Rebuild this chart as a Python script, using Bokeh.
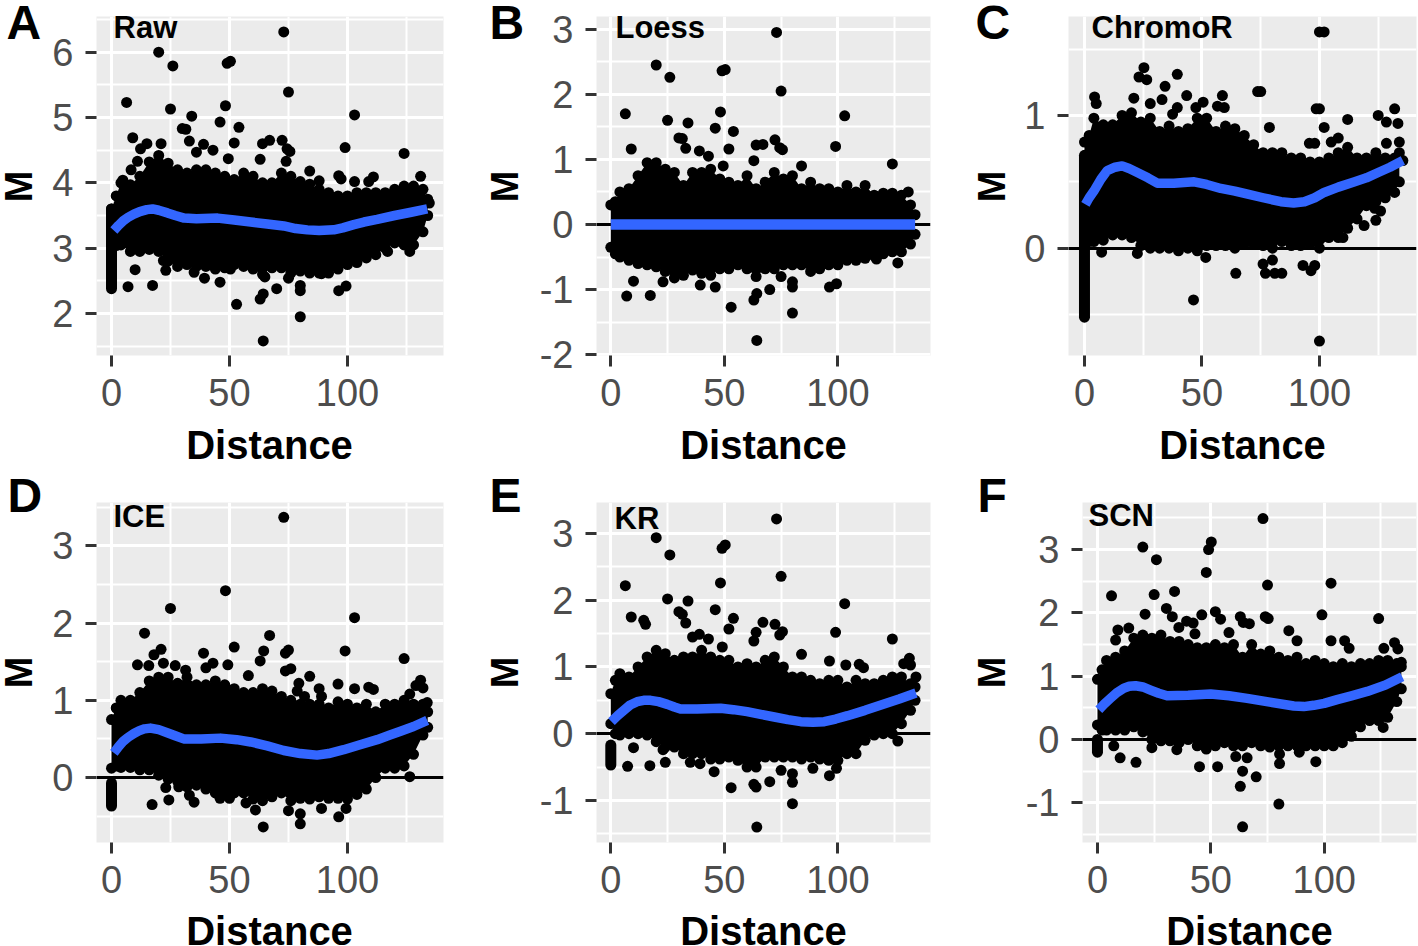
from bokeh.plotting import figure
from bokeh.layouts import column, row
from bokeh.models import Range1d, FixedTicker, Label
from bokeh.embed import file_html
from bokeh.resources import INLINE
import math

# ---- shared x positions of the blob outline
ENV_X = [0,2,4,8,12,16,20,24,28,32,36,40,44,48,52,56,60,64,68,72,76,80,84,88,92,96,100,104,108,112,116,120,124,128,132,134]

# ---- A: Raw
A_UP = [3.6,3.8,4.0,3.97,4.1,4.32,4.42,4.3,4.2,4.15,4.2,4.2,4.15,4.1,4.05,4.15,4.1,4.0,4.0,4.15,4.1,4.02,3.98,3.9,3.85,3.8,3.8,3.85,3.85,3.85,3.85,3.9,3.95,3.95,3.9,3.75]
A_LO = [3.05,3.04,3.05,2.95,2.95,2.98,2.95,2.8,2.72,2.75,2.72,2.72,2.68,2.7,2.75,2.72,2.68,2.6,2.7,2.7,2.62,2.65,2.62,2.62,2.62,2.68,2.75,2.78,2.85,2.9,3.0,3.08,3.05,3.05,3.25,3.5]
A_PX = [20,26,49,50.4,73,75,6.4,25,34,48.3,46,30,31.5,54,33,103,99,124,9,52,39,43,36,49.5,64,67,72.3,74.4,75.6,63,74,84,88,96.3,97.3,103,111,109,131,134.7,8.3,11,12.3,15,21,4.8,10,7,17.4,39.4,46,53,64.3,63,64.3,70,75,80,80,80,96.3,99.4,117,126.4,23,22,35,65,50.4,89]
A_PY = [6.0,5.79,5.83,5.86,6.31,5.39,5.23,5.13,5.02,5.18,4.93,4.83,4.82,4.85,4.64,5.04,4.54,4.45,4.69,4.61,4.59,4.5,4.47,4.37,4.6,4.65,4.65,4.52,4.48,4.36,4.33,4.18,4.03,4.11,4.06,4.02,4.09,4.02,4.1,3.69,4.2,4.33,4.52,4.6,4.6,4.04,2.67,2.41,2.43,2.54,2.48,2.14,1.58,2.22,2.3,2.38,2.54,2.43,2.35,1.95,2.35,2.42,2.95,2.95,2.66,2.81,2.63,2.56,2.68,2.61]
A_SX = [1,3,5,7,9.5,12,15,17.4,20,23.7,27,30.8,36,45,52,59,66,73,78,83,88,94.2,98,102.7,107,112.6,120,127,133.8]
A_SY = [3.27,3.35,3.42,3.47,3.52,3.56,3.59,3.6,3.58,3.54,3.5,3.46,3.45,3.46,3.43,3.4,3.37,3.34,3.3,3.28,3.27,3.28,3.31,3.36,3.4,3.44,3.5,3.55,3.6]
A_STRIP = [2.38,3.6]

# ---- B: Loess
B_UP = [0.3,0.35,0.5,0.55,0.75,0.95,0.95,0.85,0.8,0.6,0.8,0.8,0.85,0.7,0.65,0.6,0.75,0.55,0.65,0.8,0.7,0.75,0.55,0.65,0.55,0.55,0.5,0.6,0.5,0.6,0.45,0.48,0.48,0.45,0.3,0.15]
B_LO = [-0.35,-0.45,-0.5,-0.55,-0.6,-0.62,-0.65,-0.72,-0.82,-0.78,-0.7,-0.75,-0.78,-0.68,-0.68,-0.62,-0.68,-0.8,-0.68,-0.68,-0.62,-0.62,-0.62,-0.72,-0.68,-0.62,-0.62,-0.55,-0.55,-0.52,-0.48,-0.45,-0.42,-0.42,-0.3,-0.15]
B_PX = [73,20,26,49,50.4,75,6.4,25,34,48.3,46,54,30,31.5,33,103,99,124,9,52,39,43,64,67,72.3,74.4,75.6,63,84,49.5,131,10,7,17.4,39.4,46,53,64.3,63,64.3,70,75,80,80,80,96.3,99.4,117,126.4,23]
B_PY = [2.95,2.45,2.26,2.36,2.38,2.05,1.7,1.6,1.56,1.73,1.48,1.43,1.33,1.32,1.17,1.67,1.2,0.93,1.16,1.16,1.13,1.05,1.22,1.23,1.3,1.18,1.15,0.98,0.9,0.9,0.5,-0.87,-1.1,-1.09,-0.93,-0.96,-1.27,-1.78,-1.16,-1.06,-1.0,-0.8,-0.88,-0.96,-1.36,-0.96,-0.91,-0.53,-0.59,-0.88]
B_SX = [0,134]
B_SY = [0,0]

# ---- C: ChromoR
C_UP = [0.8,0.85,0.98,0.93,0.93,1.0,1.02,0.95,0.98,0.88,0.92,0.88,0.9,0.98,0.98,0.88,0.92,0.9,0.85,0.78,0.72,0.72,0.72,0.68,0.68,0.65,0.65,0.68,0.72,0.76,0.68,0.68,0.72,0.68,0.68,0.72]
C_LO = [0.1,0.05,0.05,0.06,0.1,0.1,0.08,0.02,0.0,0.0,0.0,-0.02,0.0,-0.02,0.02,0.02,0.02,0.0,0.03,0.03,0.02,0.0,0.05,0.02,0.02,0.03,0.0,0.08,0.08,0.15,0.22,0.32,0.35,0.38,0.42,0.5]
C_PX = [100,102,73.7,75,98.6,100,132,25.3,23.2,26.5,39.5,34.3,43.5,33,28,21,4.3,5,58.7,50.5,56.6,59.5,47.4,39.5,37.5,112,125,128.5,133.4,102,78.7,98,95.7,108,105,128.5,134,135.5,46.4,64.4,100,93,98,96.4,77,81,84,76,80,110,119,124,126,123.5,51.6,22.5,7.3]
C_PY = [1.63,1.63,1.18,1.18,1.05,1.05,1.05,1.36,1.29,1.27,1.31,1.22,1.15,1.12,1.09,1.13,1.14,1.09,1.15,1.1,1.07,1.06,1.06,1.06,1.01,0.97,1.0,0.95,0.94,0.91,0.91,0.79,0.79,0.83,0.8,0.79,0.8,0.66,-0.39,-0.19,-0.7,-0.13,-0.13,-0.17,-0.19,-0.19,-0.19,-0.12,-0.09,0.08,0.17,0.21,0.28,0.3,-0.07,-0.04,-0.03]
C_SX = [0.4,2,4,7,9.7,13,16,19,22.5,27,31,38,46.7,52,58,64,69,76,83.6,89,93.6,98,102,108,115,120,125,130,135.5]
C_SY = [0.33,0.38,0.43,0.52,0.585,0.61,0.62,0.6,0.57,0.53,0.49,0.49,0.5,0.48,0.45,0.43,0.41,0.38,0.35,0.34,0.35,0.38,0.42,0.46,0.5,0.53,0.57,0.61,0.66]
C_STRIP = [-0.52,0.7]

# ---- D: ICE
D_UP = [0.75,0.9,1.0,1.0,1.1,1.25,1.3,1.3,1.22,1.3,1.2,1.2,1.25,1.2,1.15,1.1,1.1,1.15,1.12,1.05,1.0,0.95,0.95,0.95,0.9,0.98,0.95,0.9,0.95,0.85,0.95,0.95,1.0,0.95,0.95,0.85]
D_LO = [0.12,0.15,0.13,0.13,0.1,0.1,0.03,-0.02,-0.05,-0.12,-0.1,-0.15,-0.2,-0.22,-0.2,-0.2,-0.28,-0.3,-0.25,-0.2,-0.3,-0.27,-0.28,-0.25,-0.27,-0.27,-0.28,-0.22,-0.15,0.0,0.12,0.12,0.15,0.3,0.55,0.65]
D_PX = [73,48.3,25,103,14,67,52,21,18,15.8,11,39,64.5,63,75,73.7,99,124,49.3,43,40,22,27,31.4,76,73.7,58,84,96,103,109,111,131,129,132,133.8,126.4,79.4,78.7,81.8,88,89,17.2,24.3,23,28.5,33,35,46,50,57,61,64.3,75,80,80,89,96.3,99.4,126.4]
D_PY = [3.37,2.42,2.19,2.07,1.87,1.84,1.69,1.66,1.59,1.45,1.46,1.61,1.64,1.51,1.65,1.61,1.64,1.54,1.46,1.48,1.42,1.48,1.45,1.39,1.41,1.38,1.32,1.31,1.21,1.15,1.17,1.14,1.26,1.19,1.16,0.97,1.08,1.22,1.12,1.05,1.15,1.05,-0.35,-0.29,-0.13,-0.12,-0.23,-0.32,-0.27,-0.27,-0.33,-0.42,-0.64,-0.43,-0.47,-0.6,-0.4,-0.51,-0.4,0.01]
D_SX = [1,3,5,7,9.5,12,14,16.5,20,23.6,27,30.6,38,46.2,53,59,66,73,80,87.1,92,98.4,105,112.6,118,122.5,128,133.8]
D_SY = [0.32,0.4,0.47,0.52,0.57,0.61,0.63,0.64,0.62,0.58,0.54,0.5,0.5,0.51,0.49,0.46,0.41,0.35,0.31,0.29,0.31,0.36,0.42,0.49,0.55,0.6,0.66,0.74]
D_STRIP = [-0.37,-0.07]

# ---- E: KR
E_UP = [0.6,0.8,0.9,0.85,1.0,1.15,1.25,1.2,1.1,1.15,1.15,1.25,1.15,1.1,1.1,1.0,1.05,1.0,1.1,1.15,1.0,0.85,0.85,0.8,0.75,0.8,0.8,0.7,0.8,0.75,0.75,0.8,0.85,0.85,0.75,0.7]
E_LO = [0.15,0.0,-0.02,0.0,0.0,-0.02,-0.12,-0.2,-0.2,-0.3,-0.3,-0.3,-0.38,-0.38,-0.35,-0.4,-0.5,-0.5,-0.35,-0.35,-0.35,-0.35,-0.38,-0.35,-0.38,-0.4,-0.4,-0.3,-0.3,-0.1,-0.02,0.0,0.0,0.15,0.35,0.5]
E_PX = [73,20,26,49,50.4,75,6.4,48.3,25,34,103,46,30,31.5,54,33,52,99,124,9,14.5,15.3,67,72.3,64,75.6,74.4,63,43,39,36,49.1,84,96.3,103.5,109.4,111.3,131.5,129,132,134.4,126.4,96.3,99.4,89,75,80,80,80,70,63,64,64.3,53,45.5,39.3,35,24,17.2,7.4,10,23]
E_PY = [3.22,2.94,2.68,2.78,2.83,2.36,2.22,2.26,2.02,1.99,1.95,1.86,1.83,1.79,1.73,1.66,1.57,1.52,1.42,1.75,1.7,1.64,1.67,1.64,1.52,1.53,1.48,1.39,1.42,1.49,1.45,1.3,1.19,1.09,1.03,1.04,0.99,1.13,1.05,1.03,0.85,-0.11,-0.63,-0.52,-0.52,-0.55,-0.6,-0.73,-1.05,-0.72,-0.76,-0.8,-1.4,-0.81,-0.57,-0.45,-0.43,-0.43,-0.48,-0.49,-0.21,-0.24]
E_SX = [0.3,3,5.7,8.5,11.6,14.5,17.5,21,24.9,28,30.7,38,48.4,54,60,66,72,78,83.7,89,94,99,104.3,112,119,127,134.4]
E_SY = [0.18,0.27,0.35,0.43,0.48,0.5,0.5,0.48,0.44,0.4,0.37,0.37,0.38,0.36,0.33,0.29,0.25,0.21,0.18,0.17,0.18,0.22,0.27,0.35,0.43,0.52,0.61]
E_STRIP = [-0.47,-0.17]

# ---- F: SCN
F_UP = [0.95,1.1,1.25,1.3,1.4,1.6,1.65,1.6,1.65,1.55,1.55,1.5,1.45,1.45,1.5,1.45,1.5,1.3,1.5,1.35,1.4,1.3,1.25,1.3,1.2,1.25,1.2,1.15,1.2,1.15,1.2,1.2,1.25,1.25,1.2,1.15]
F_LO = [0.23,0.15,0.15,0.15,0.15,0.2,0.12,0.0,-0.02,-0.02,-0.05,0.0,-0.1,-0.15,-0.1,-0.05,-0.1,-0.1,-0.05,-0.1,-0.12,-0.1,-0.1,-0.1,-0.1,-0.1,-0.1,-0.1,-0.05,0.05,0.2,0.3,0.3,0.35,0.6,0.8]
F_PX = [73,20,26,49,50.2,48,75,103,6.2,25,34,30.4,21,33,46,52,54.3,99,124,63,64.3,67,74,75.3,35.9,39.3,42.2,43,58,84.4,88,103,109,111,131,126.3,132.5,134,9,13.8,8,126,96.3,80.3,80.3,80,70,64,63,64,66,61,53,45,17,10,7.2,24,35,89]
F_PY = [3.49,3.04,2.84,3.0,3.12,2.64,2.44,2.47,2.27,2.29,2.34,2.07,1.98,1.94,1.97,2.02,1.9,1.97,1.91,1.94,1.85,1.83,1.94,1.91,1.77,1.87,1.84,1.67,1.69,1.72,1.56,1.56,1.56,1.44,1.53,1.44,1.43,1.22,1.73,1.76,1.57,0.19,-0.35,-0.38,-0.23,-1.02,-0.59,-0.5,-0.74,-1.38,-0.29,-0.27,-0.43,-0.43,-0.36,-0.29,-0.1,-0.13,-0.16,-0.2]
F_SX = [0.6,3,5.7,8.5,11.6,14,16.8,20,23.4,27,30.7,40,49.9,58,66,76,86.6,91,95.4,100,105.7,112,119,127,134.4]
F_SY = [0.47,0.56,0.65,0.74,0.81,0.84,0.85,0.83,0.78,0.73,0.69,0.7,0.72,0.69,0.65,0.59,0.53,0.52,0.54,0.57,0.63,0.69,0.76,0.86,0.99]
F_STRIP = [-0.2,0.0]

XTICKS = [0,50,100]
XMINOR = [25,75,125]
LETTERS = ["A","B","C","D","E","F"]
NAMES = ["Raw","Loess","ChromoR","ICE","KR","SCN"]
XLABEL = "Distance"
YLABEL = "M"
FONT = "Liberation Sans"
BLUE = "#3366FF"


def panel(up, lo, px, py, sx, sy, strip, yticks, yminor, xr, yr, w, h, borders, hline=True, lw=9.5):
    L, R, T, B = borders
    p = figure(width=w, height=h, output_backend="svg", toolbar_location=None,
               x_range=Range1d(*xr), y_range=Range1d(*yr),
               min_border_left=L, min_border_right=R, min_border_top=T, min_border_bottom=B,
               background_fill_color="#EBEBEB", border_fill_color=None, outline_line_color=None)
    p.xaxis.ticker = FixedTicker(ticks=XTICKS, minor_ticks=XMINOR)
    p.yaxis.ticker = FixedTicker(ticks=yticks, minor_ticks=yminor)
    p.yaxis.major_label_overrides = {t: str(t) for t in yticks}
    for g in (p.xgrid, p.ygrid):
        g.grid_line_color = "white"
        g.grid_line_width = 3
        g.minor_grid_line_color = "white"
        g.minor_grid_line_width = 2
    for a in (p.xaxis, p.yaxis):
        a.axis_line_color = None
        a.major_tick_line_color = "#333333"
        a.major_tick_line_width = 3
        a.major_tick_in = 0
        a.major_tick_out = 11
        a.minor_tick_line_color = None
        a.major_label_text_font = FONT
        a.major_label_text_font_size = "38px"
        a.major_label_text_color = "#4D4D4D"
    p.xaxis.major_label_standoff = 12
    p.yaxis.major_label_standoff = 12

    if hline:
        p.hspan(y=[0], line_color="black", line_width=3)
    p.varea(x=ENV_X, y1=lo, y2=up, fill_color="black")
    p.scatter(ENV_X, up, size=11, color="black", line_color=None)
    p.scatter(ENV_X, lo, size=11, color="black", line_color=None)
    if strip:
        p.line([0, 0], strip, line_color="black", line_width=11, line_cap="round")
    p.scatter(px, py, size=11, color="black", line_color=None)
    p.line(sx, sy, line_color=BLUE, line_width=lw, line_join="round")
    return p


H1, H2 = 470, 476
W1, W2, W3 = 480, 485, 453

a = panel(A_UP, A_LO, A_PX, A_PY, A_SX, A_SY, A_STRIP, [2,3,4,5,6], [1.5,2.5,3.5,4.5,5.5,6.5],
          (-6.36,140.7), (1.357,6.546), W1, H1, (96,37,16,115), hline=False)
b = panel(B_UP, B_LO, B_PX, B_PY, B_SX, B_SY, None, [-2,-1,0,1,2,3], [-1.5,-0.5,0.5,1.5,2.5],
          (-6.3,140.8), (-2.012,3.195), W2, H1, (116,35,16,115), lw=10.5)
c = panel(C_UP, C_LO, C_PX, C_PY, C_SX, C_SY, C_STRIP, [0,1], [-0.5,0.5,1.5],
          (-6.8,141.3), (-0.809,1.746), W3, H1, (103,2,16,115))
d = panel(D_UP, D_LO, D_PX, D_PY, D_SX, D_SY, D_STRIP, [0,1,2,3], [-0.5,0.5,1.5,2.5,3.5],
          (-6.36,140.7), (-0.842,3.562), W1, H2, (96,37,32,104))
e = panel(E_UP, E_LO, E_PX, E_PY, E_SX, E_SY, E_STRIP, [-1,0,1,2,3], [-1.5,-0.5,0.5,1.5,2.5],
          (-6.3,140.8), (-1.632,3.467), W2, H2, (116,35,32,104))
f = panel(F_UP, F_LO, F_PX, F_PY, F_SX, F_SY, F_STRIP, [-1,0,1,2,3], [-1.5,-0.5,0.5,1.5,2.5,3.5],
          (-6.6,140.7), (-1.627,3.744), W3, H2, (117,2,32,104))

# transparent sheet over the whole page that carries the texts outside the plot frames
sheet = figure(width=W1+W2+W3, height=H1+H2, output_backend="svg", toolbar_location=None,
               x_axis_type=None, y_axis_type=None, x_range=Range1d(0,1), y_range=Range1d(0,1),
               min_border=0, background_fill_color=None, border_fill_color=None,
               outline_line_color=None, margin=(-(H1+H2),0,0,0))


def txt(x, y, s, size, align="left", angle=0):
    sheet.add_layout(Label(x=x, y=y, x_units="canvas", y_units="canvas", text=s, text_font=FONT,
                           text_font_style="bold", text_font_size=size, text_color="black",
                           text_align=align, text_baseline="middle", angle=angle))


LETTER_POS = [(6,22),(489,22),(975,22),(7,495),(489,495),(977,495)]
NAME_POS = [(113,27),(615,27),(1091,27),(113,516),(614,518),(1088,515)]
DIST_POS = [(269,444),(763,444),(1242,444),(269,930),(763,930),(1249,930)]
M_POS = [(18,186),(504,186),(991,186),(18,672),(504,672),(991,672)]
for i in range(6):
    txt(*LETTER_POS[i], LETTERS[i], "48px")
    txt(*NAME_POS[i], NAMES[i], "31px")
    txt(*DIST_POS[i], XLABEL, "40px", align="center")
    txt(*M_POS[i], YLABEL, "38px", align="center", angle=math.pi/2)

page = column(row(a, b, c, spacing=0), row(d, e, f, spacing=0), sheet, spacing=0)
open("out.html", "w").write(file_html(page, INLINE))
